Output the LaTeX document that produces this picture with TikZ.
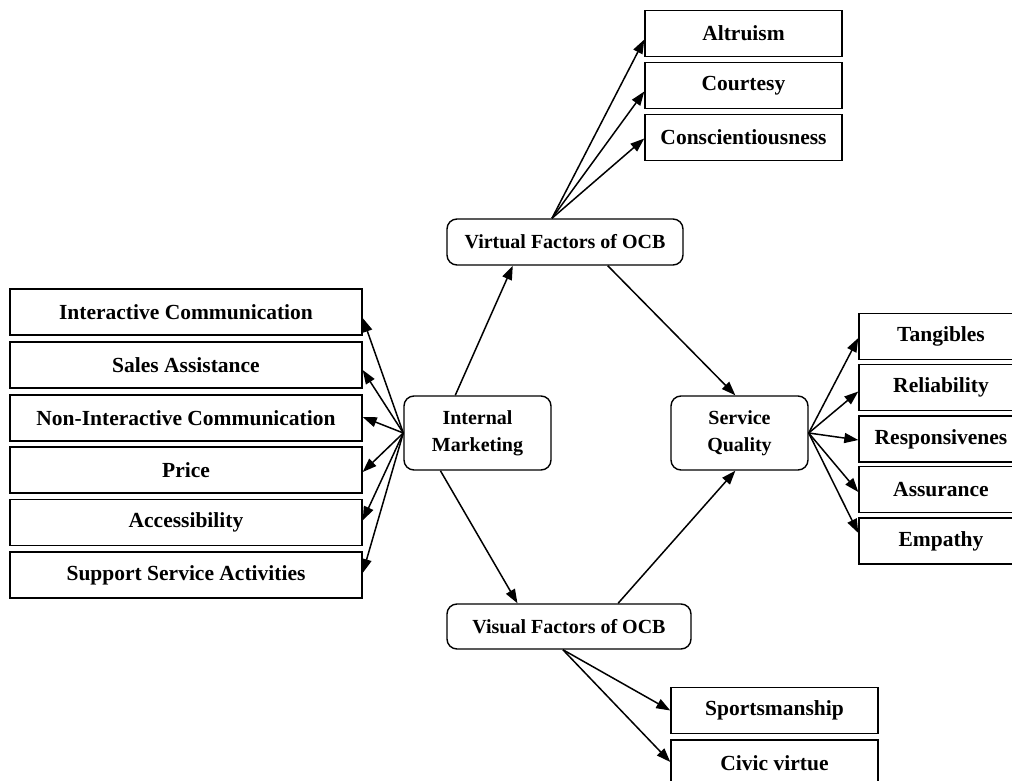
\documentclass[tikz,border=0pt]{standalone}
\usepackage{fontspec}
\setmainfont{Liberation Serif}
\usetikzlibrary{arrows.meta,calc}
\begin{document}
\begin{tikzpicture}[x=1pt,y=-1pt,
  box/.style={font=\fontsize{21.5}{27}\selectfont\bfseries,draw,line width=1.4pt,minimum height=46pt,inner sep=0pt},
  rbox/.style={box,font=\fontsize{20}{27}\selectfont\bfseries,rounded corners=10pt,align=center},
  arr/.style={line width=1.5pt,-{Triangle[length=14pt,width=10pt]}},
  ln/.style={line width=1.5pt}]
\useasboundingbox (0,0) rectangle (1012,781);
\clip (0,0) rectangle (1012,781);
% central nodes
\node[rbox,minimum width=147pt,minimum height=74pt] (im) at (477.5,433) {Internal\\Marketing};
\node[rbox,minimum width=137pt,minimum height=74pt] (sq) at (739.5,433) {Service\\Quality};
\node[rbox,minimum width=236pt] (virt) at (565,242) {Virtual Factors of OCB};
\node[rbox,minimum width=244pt,minimum height=45pt] (vis) at (569,626.5) {Visual Factors of OCB};
% left boxes
\node[box,minimum width=352pt] (ic) at (186,312) {Interactive Communication};
\node[box,minimum width=352pt] (sa) at (186,365) {Sales Assistance};
\node[box,minimum width=352pt] (nic) at (186,418) {Non-Interactive Communication};
\node[box,minimum width=352pt] (pr) at (186,470) {Price};
\node[box,minimum width=352pt] (ac) at (186,522.5) {Accessibility};
\node[box,minimum width=352pt] (ssa) at (186,575) {Support Service Activities};
% top boxes
\node[box,minimum width=197pt] (alt) at (743.5,33.5) {Altruism};
\node[box,minimum width=197pt] (cou) at (743.5,85.5) {Courtesy};
\node[box,minimum width=197pt] (con) at (743.5,137.5) {Conscientiousness};
% right boxes
\node[box,minimum width=164pt] (tan) at (941,336.5) {Tangibles};
\node[box,minimum width=164pt] (rel) at (941,387.5) {Reliability};
\node[box,minimum width=164pt] (res) at (941,439) {Responsivenes};
\node[box,minimum width=164pt] (ass) at (941,489.5) {Assurance};
\node[box,minimum width=164pt] (emp) at (941,541) {Empathy};
% bottom boxes
\node[box,minimum width=207pt] (spo) at (774.5,710.5) {Sportsmanship};
\node[box,minimum width=207pt] (civ) at (774.5,763) {Civic virtue};
% connectors
\draw[arr] ($(im.north west)!0.35!(im.north east)$) -- ($(virt.south west)!0.28!(virt.south east)$);
\draw[arr] ($(im.south west)!0.25!(im.south east)$) -- ($(vis.north west)!0.29!(vis.north east)$);
\draw[arr] ($(virt.south west)!0.68!(virt.south east)$) -- ($(sq.north west)!0.47!(sq.north east)$);
\draw[arr] ($(vis.north west)!0.70!(vis.north east)$) -- ($(sq.south west)!0.47!(sq.south east)$);
\foreach \t/\d in {ic/6,sa/5,nic/-1,pr/2,ac/-2,ssa/-2}
  \draw[arr] (im.west) -- ($(\t.east)+(0,\d)$);
\foreach \t/\d in {alt/6,cou/6,con/1}
  \draw[arr] ($(virt.north west)!0.445!(virt.north east)$) -- ($(\t.west)+(0,\d)$);
\foreach \t/\d in {tan/1.5,rel/4,res/1,ass/2.5,emp/-8}
  \draw[arr] (sq.east) -- ($(\t.west)+(0,\d)$);
\foreach \t/\d in {spo/0,civ/-1}
  \draw[arr] ($(vis.south west)!0.475!(vis.south east)$) -- ($(\t.west)+(0,\d)$);
\end{tikzpicture}
\end{document}
